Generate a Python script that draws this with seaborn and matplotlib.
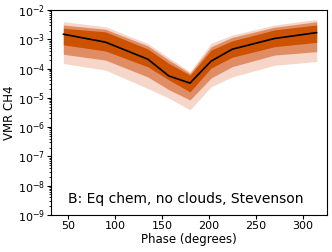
import numpy as np
import pandas as pd
import matplotlib
matplotlib.use("Agg")
import matplotlib.pyplot as plt
import seaborn as sns

# Phase points and CH4 VMR percentiles
phase = [45, 90, 135, 157.5, 180, 202.5, 225, 270, 315]
median = [1.5e-3, 8.0e-4, 2.1e-4, 5.6e-5, 3.2e-5, 1.8e-4, 4.6e-4, 1.07e-3, 1.7e-3]
lo1 = [6.5e-4, 4.0e-4, 1.15e-4, 4.1e-5, 1.6e-5, 1.05e-4, 2.45e-4, 5.6e-4, 7.9e-4]
hi1 = [2.4e-3, 1.8e-3, 4.7e-4, 1.5e-4, 6.0e-5, 4.3e-4, 8.9e-4, 2.1e-3, 3.1e-3]
lo2 = [3.1e-4, 1.95e-4, 5.2e-5, 1.9e-5, 8.5e-6, 4.8e-5, 1.17e-4, 2.9e-4, 3.8e-4]
hi2 = [3.1e-3, 2.2e-3, 6.0e-4, 1.95e-4, 6.9e-5, 5.6e-4, 1.17e-3, 2.6e-3, 4.0e-3]
lo3 = [1.5e-4, 8.9e-5, 2.1e-5, 9.8e-6, 3.9e-6, 2.4e-5, 5.2e-5, 1.3e-4, 1.75e-4]
hi3 = [4.0e-3, 2.7e-3, 7.2e-4, 2.35e-4, 7.8e-5, 7.4e-4, 1.4e-3, 3.1e-3, 4.8e-3]

df = pd.DataFrame({"Phase": phase, "VMR": median})

sns.set_style("ticks")
plt.rcParams["font.family"] = ["DejaVu Sans"]
plt.rcParams["text.color"] = "black"
plt.rcParams["axes.labelcolor"] = "black"
plt.rcParams["xtick.color"] = "black"
plt.rcParams["ytick.color"] = "black"

fig = plt.figure(figsize=(3.32, 2.52), dpi=100)
ax = fig.add_axes([0.154, 0.147, 0.831, 0.813])

ax.fill_between(phase, lo3, hi3, color="#f6d6c8", lw=0)
ax.fill_between(phase, lo2, hi2, color="#e08d66", lw=0)
ax.fill_between(phase, lo1, hi1, color="#cc5200", lw=0)
sns.lineplot(data=df, x="Phase", y="VMR", color="black", lw=1.2, ax=ax)

ax.set_yscale("log")
ax.set_ylim(1e-9, 1e-2)
ax.set_xlim(32, 326)
ax.set_xticks([50, 100, 150, 200, 250, 300])
ax.set_xlabel("Phase (degrees)", fontsize=8.5, labelpad=1)
ax.set_ylabel("VMR CH4", fontsize=8.5, labelpad=1)
ax.tick_params(labelsize=8, length=3, pad=1.5)
ax.tick_params(which="minor", length=1.5)
for s in ax.spines.values():
    s.set_color("black")
    s.set_linewidth(0.8)

ax.text(0.062, 0.078, "B: Eq chem, no clouds, Stevenson", transform=ax.transAxes,
        fontsize=10, va="center", ha="left")

fig.savefig("out.png", dpi=100)
